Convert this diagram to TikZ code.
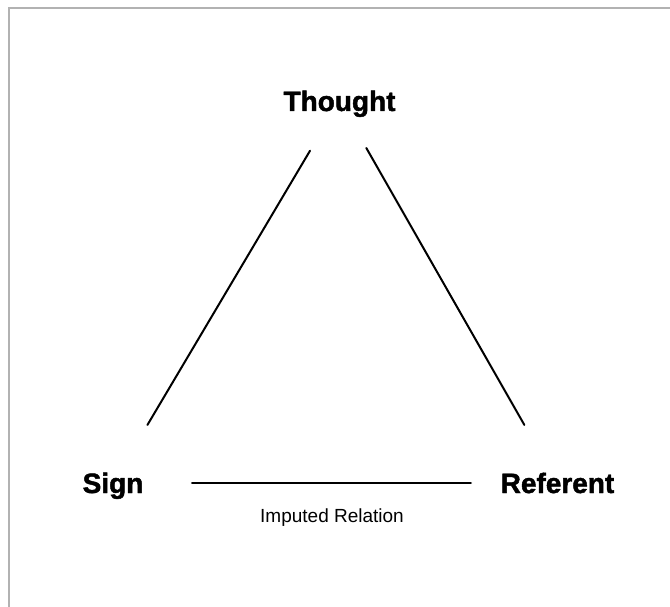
\documentclass[tikz,border=0pt]{standalone}
\usepackage{fontspec}
\setmainfont{Liberation Sans}
\newfontfamily\heavyfont[FakeBold=1.6]{Liberation Sans}
\usepackage{tkz-euclide}

\begin{document}
\begin{tikzpicture}[x=1bp,y=-1bp,
    term/.style={font=\fontsize{28bp}{30bp}\heavyfont\bfseries, inner sep=0pt, text height=20bp, text depth=0pt},
    note/.style={font=\fontsize{19bp}{22bp}\selectfont, inner sep=0pt, text height=14bp, text depth=0pt}]
    \useasboundingbox (0,0) rectangle (670,607);
    \draw[line width=2bp,gray!60] (9,607) -- (9,8) -- (670,8);
    \node[term](thought) at (339.5,101) {Thought};
    \node[term](sign) at (113,483) {Sign};
    \node[term](referent) at (557.5,483) {Referent};
    \node[note](imputed) at (332,515) {Imputed Relation};
    \path(thought.center)--(sign.center)coordinate[pos=0.13](T1)coordinate[pos=0.848](S1);
    \path(thought.center)--(referent.center)coordinate[pos=0.123](T2)coordinate[pos=0.848](R1);
    \path(sign.center)--(referent.center)coordinate[pos=0.178](S2)coordinate[pos=0.805](R2);
    \tkzDrawSegments[line width=2bp](T1,S1 T2,R1)
    \tkzDrawSegments[line width=2.4bp](S2,R2)
\end{tikzpicture}
\end{document}
